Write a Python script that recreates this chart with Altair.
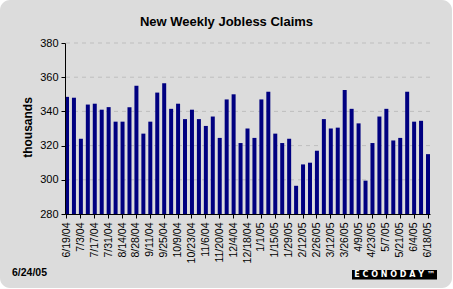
import altair as alt
import pandas as pd

weeks = ["6/19/04", "6/26/04", "7/3/04", "7/10/04", "7/17/04", "7/24/04", "7/31/04",
         "8/7/04", "8/14/04", "8/21/04", "8/28/04", "9/4/04", "9/11/04", "9/18/04",
         "9/25/04", "10/2/04", "10/9/04", "10/16/04", "10/23/04", "10/30/04", "11/6/04",
         "11/13/04", "11/20/04", "11/27/04", "12/4/04", "12/11/04", "12/18/04", "12/25/04",
         "1/1/05", "1/8/05", "1/15/05", "1/22/05", "1/29/05", "2/5/05", "2/12/05",
         "2/19/05", "2/26/05", "3/5/05", "3/12/05", "3/19/05", "3/26/05", "4/2/05",
         "4/9/05", "4/16/05", "4/23/05", "4/30/05", "5/7/05", "5/14/05", "5/21/05",
         "5/28/05", "6/4/05", "6/11/05", "6/18/05"]

claims = [348.5, 348, 324, 344, 344.5, 341, 342.5, 334, 334, 342.5,
          355, 327, 334, 351, 356.5, 341.5, 344.5, 335.5, 341, 335.5,
          331.5, 337, 324.5, 347, 350, 321.5, 330, 324.5, 347, 351.5,
          327, 321.5, 324, 296.5, 309, 310, 317, 335.5, 330, 330.5,
          352.5, 341.5, 333, 299.5, 321.5, 337, 341.5, 323, 324.5, 351.5,
          334, 334.5, 315]

tick_labels = ["6/19/04", "7/3/04", "7/17/04", "7/31/04", "8/14/04", "8/28/04",
               "9/11/04", "9/25/04", "10/9/04", "10/23/04", "11/6/04", "11/20/04",
               "12/4/04", "12/18/04", "1/1/05", "1/15/05", "1/29/05", "2/12/05",
               "2/26/05", "3/12/05", "3/26/05", "4/9/05", "4/23/05", "5/7/05",
               "5/21/05", "6/4/05", "6/18/05"]

y_ticks = [280, 300, 320, 340, 360, 380]
grid_vals = [300, 320, 340, 360, 380]

FONT = "Liberation Sans"
PL, PT = 65, 43

df = pd.DataFrame({"week": weeks, "claims": claims})
one = alt.Data(values=[{}])

y_scale = alt.Scale(domain=[280, 380], nice=False, zero=False)
y_axis = alt.Axis(values=y_ticks, labelFont=FONT, labelFontSize=11,
                  labelColor="black", labelPadding=3, tickSize=4,
                  tickColor="black", domainColor="black", grid=False,
                  title=None, zindex=1)

panel = alt.Chart(one).mark_rect(color="#DCDCDC", cornerRadius=10).encode(
    x=alt.value(-PL), x2=alt.value(452 - PL),
    y=alt.value(-PT), y2=alt.value(288 - PT))

grid = alt.Chart(pd.DataFrame({"v": grid_vals})).mark_rule(
    color="#BEBEBE", strokeDash=[4, 4], strokeWidth=1).encode(
    y=alt.Y("v:Q", scale=y_scale, axis=y_axis))

bars = alt.Chart(df).mark_bar(color="#000080").encode(
    x=alt.X("week:N", sort=weeks,
            scale=alt.Scale(domain=weeks, paddingInner=0.424, paddingOuter=0),
            axis=alt.Axis(values=tick_labels, labelAngle=-90, labelFont=FONT,
                          labelFontSize=10.5, labelColor="black", labelPadding=4,
                          tickSize=4, tickColor="black", domainColor="black",
                          labelOverlap=False, labelBound=False, grid=False,
                          title=None, zindex=1)),
    y=alt.Y("claims:Q", scale=y_scale, axis=y_axis),
    y2=alt.datum(280))

title = alt.Chart(one).mark_text(
    text="New Weekly Jobless Claims", font=FONT, fontSize=13, fontWeight="bold",
    align="center", baseline="alphabetic", color="black").encode(
    x=alt.value(226.5 - PL), y=alt.value(26 - PT))

ytitle = alt.Chart(one).mark_text(
    text="thousands", font=FONT, fontSize=12, fontWeight="bold", angle=270,
    align="center", baseline="alphabetic", color="black").encode(
    x=alt.value(31.5 - PL), y=alt.value(127.5 - PT))

stamp = alt.Chart(one).mark_text(
    text="6/24/05", font=FONT, fontSize=10.5, fontWeight="bold",
    align="left", baseline="alphabetic", color="black").encode(
    x=alt.value(12 - PL), y=alt.value(276 - PT))

logo_box = alt.Chart(one).mark_rect(color="black").encode(
    x=alt.value(352 - PL), x2=alt.value(437 - PL),
    y=alt.value(270 - PT), y2=alt.value(279.5 - PT))

logo_text = alt.Chart(one).mark_text(
    text="E C O N O D A Y ™", font="DejaVu Sans", fontSize=8, fontWeight="bold",
    align="center", baseline="middle", color="white").encode(
    x=alt.value(394.5 - PL), y=alt.value(275.2 - PT))

chart = alt.layer(panel, grid, bars, title, ytitle, stamp, logo_box, logo_text).properties(
    width=365, height=171,
    padding={"left": PL, "top": PT, "right": 453 - PL - 365, "bottom": 289 - PT - 171},
    autosize=alt.AutoSizeParams(type="none"),
    background="white",
).configure_view(stroke=None)

chart.save("out.html", embed_options={"renderer": "svg", "actions": False})
